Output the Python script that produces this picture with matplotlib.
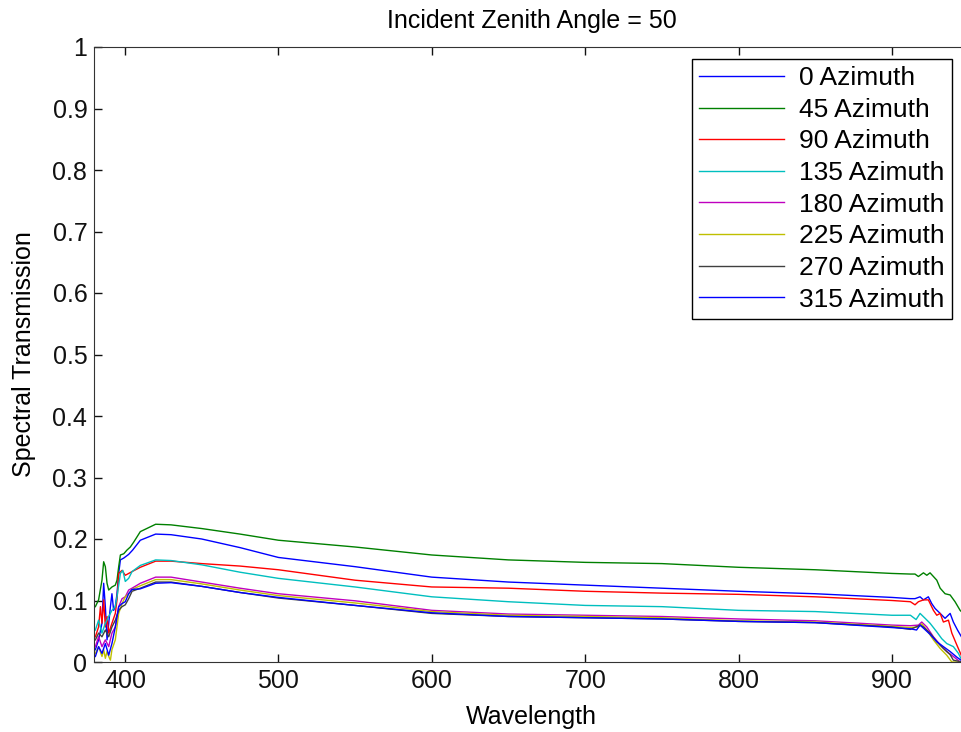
import matplotlib
matplotlib.use("Agg")
import matplotlib.pyplot as plt

# wavelength grid shared by the smooth middle part of every curve
wl_mid = [410, 420, 430, 450, 475, 500, 550, 600, 650, 700, 750, 800, 850, 900, 912]

# azimuth 0
az0_head_wl = [380.7, 382.8, 385.0, 386.1, 387.2, 388.3, 389.4, 390.5, 391.5, 392.6,
               393.7, 394.8, 395.9, 397.0, 399.2, 402.4, 405.0]
az0_head = [0.020, 0.036, 0.063, 0.128, 0.090, 0.036, 0.063, 0.090, 0.111, 0.084,
            0.090, 0.111, 0.144, 0.166, 0.169, 0.175, 0.182]
az0_mid = [0.198, 0.208, 0.207, 0.200, 0.186, 0.170, 0.155, 0.138, 0.130, 0.125,
           0.120, 0.115, 0.111, 0.105, 0.103]
az0_tail_wl = [915.0, 918.3, 920.5, 923.7, 925.9, 928.1, 931.4, 934.6, 937.9, 940.0, 942.7, 945.5]
az0_tail = [0.103, 0.106, 0.101, 0.106, 0.095, 0.087, 0.079, 0.071, 0.079, 0.065, 0.052, 0.040]

# azimuth 45
az45_head_wl = [380.7, 382.8, 385.0, 386.1, 387.2, 388.3, 389.4, 391.5, 393.7, 394.8,
                395.9, 397.0, 399.2, 401.3, 403.5, 405.7]
az45_head = [0.090, 0.101, 0.133, 0.163, 0.155, 0.128, 0.117, 0.122, 0.125, 0.133,
             0.155, 0.174, 0.176, 0.182, 0.187, 0.195]
az45_mid = [0.212, 0.224, 0.223, 0.217, 0.208, 0.198, 0.187, 0.174, 0.166, 0.162,
            0.160, 0.154, 0.150, 0.144, 0.143]
az45_tail_wl = [915.0, 917.2, 920.5, 922.7, 924.8, 927.0, 929.2, 931.4, 934.6, 937.9, 941.1, 944.4, 946.0]
az45_tail = [0.143, 0.139, 0.145, 0.141, 0.145, 0.139, 0.133, 0.120, 0.111, 0.109, 0.098, 0.084, 0.080]

# azimuth 90
az90_head_wl = [380.7, 382.8, 384.0, 385.0, 386.1, 387.2, 388.3, 389.4, 391.5, 393.7,
                394.8, 395.9, 398.1, 400.2, 402.4, 404.6]
az90_head = [0.041, 0.057, 0.090, 0.063, 0.101, 0.057, 0.074, 0.047, 0.063, 0.079,
             0.101, 0.144, 0.149, 0.141, 0.144, 0.147]
az90_mid = [0.154, 0.164, 0.164, 0.160, 0.156, 0.150, 0.133, 0.122, 0.120, 0.115,
            0.112, 0.110, 0.106, 0.100, 0.098]
az90_tail_wl = [915.0, 917.2, 920.5, 923.7, 927.0, 929.2, 931.4, 933.5, 936.8, 939.0, 942.2, 945.5]
az90_tail = [0.093, 0.098, 0.101, 0.101, 0.084, 0.076, 0.079, 0.065, 0.068, 0.047, 0.028, 0.009]

# azimuth 135
az135_head_wl = [380.7, 382.8, 385.0, 387.2, 389.4, 391.5, 393.7, 394.8, 397.0, 398.6,
                 400.2, 402.4, 404.6]
az135_head = [0.052, 0.068, 0.047, 0.063, 0.074, 0.084, 0.090, 0.106, 0.144, 0.149,
              0.131, 0.136, 0.147]
az135_mid = [0.157, 0.166, 0.165, 0.158, 0.146, 0.136, 0.122, 0.106, 0.098, 0.092,
             0.090, 0.084, 0.082, 0.076, 0.076]
az135_tail_wl = [915.7, 918.3, 921.6, 924.8, 929.2, 932.4, 935.7, 940.0, 943.3, 945.5]
az135_tail = [0.069, 0.079, 0.071, 0.063, 0.049, 0.038, 0.030, 0.025, 0.014, 0.003]

# azimuth 180
az180_head_wl = [380.7, 382.8, 385.0, 387.2, 389.4, 391.5, 393.7, 395.9, 398.1, 400.2,
                 402.4, 404.6]
az180_head = [0.025, 0.041, 0.025, 0.036, 0.025, 0.047, 0.057, 0.090, 0.103, 0.106,
              0.117, 0.120]
az180_mid = [0.128, 0.138, 0.138, 0.130, 0.120, 0.111, 0.0995, 0.084, 0.078, 0.076,
             0.074, 0.070, 0.067, 0.060, 0.059]
az180_tail_wl = [917.2, 919.4, 922.7, 927.0, 931.4, 935.7, 940.0, 944.4]
az180_tail = [0.060, 0.065, 0.057, 0.041, 0.028, 0.017, 0.009, 0.0]

# azimuth 225
az225_head_wl = [380.7, 382.8, 385.0, 386.1, 387.2, 388.3, 389.4, 390.5, 391.5, 393.7,
                 395.9, 398.1, 400.2, 402.4, 404.6]
az225_head = [0.014, 0.025, 0.009, 0.020, 0.006, 0.017, 0.009, 0.003, 0.020, 0.036,
              0.079, 0.095, 0.106, 0.111, 0.118]
az225_mid = [0.124, 0.134, 0.134, 0.127, 0.117, 0.108, 0.096, 0.082, 0.076, 0.074,
             0.072, 0.067, 0.065, 0.058, 0.056]
az225_tail_wl = [917.2, 919.4, 922.7, 927.0, 931.4, 935.7, 939.0, 945.5]
az225_tail = [0.057, 0.062, 0.052, 0.036, 0.022, 0.011, 0.0, 0.0]

# azimuth 270
az270_head_wl = [380.7, 382.8, 385.0, 387.2, 389.4, 391.5, 393.7, 395.9, 398.1, 400.2,
                 402.4, 404.6]
az270_head = [0.036, 0.047, 0.041, 0.052, 0.041, 0.057, 0.068, 0.084, 0.090, 0.093,
              0.103, 0.115]
az270_mid = [0.120, 0.130, 0.130, 0.123, 0.113, 0.104, 0.092, 0.079, 0.074, 0.072,
             0.070, 0.066, 0.064, 0.057, 0.053]
az270_tail_wl = [918.3, 920.5, 924.8, 929.2, 933.5, 937.9, 940.0, 945.5]
az270_tail = [0.060, 0.057, 0.047, 0.033, 0.022, 0.012, 0.003, 0.0]

# azimuth 315
az315_head_wl = [380.7, 382.8, 385.0, 387.2, 389.4, 391.5, 393.7, 395.9, 398.1, 400.2,
                 402.4, 404.6]
az315_head = [0.009, 0.025, 0.014, 0.030, 0.011, 0.030, 0.057, 0.090, 0.095, 0.098,
              0.111, 0.118]
az315_mid = [0.119, 0.128, 0.129, 0.123, 0.113, 0.105, 0.092, 0.080, 0.074, 0.072,
             0.070, 0.066, 0.064, 0.056, 0.054]
az315_tail_wl = [916.0, 918.3, 920.5, 924.8, 929.2, 933.5, 937.9, 942.2, 945.5]
az315_tail = [0.052, 0.060, 0.055, 0.045, 0.033, 0.025, 0.017, 0.008, 0.002]

labels = ["0 Azimuth", "45 Azimuth", "90 Azimuth", "135 Azimuth",
          "180 Azimuth", "225 Azimuth", "270 Azimuth", "315 Azimuth"]

series = [
    (az0_head_wl, az0_head, az0_mid, az0_tail_wl, az0_tail),
    (az45_head_wl, az45_head, az45_mid, az45_tail_wl, az45_tail),
    (az90_head_wl, az90_head, az90_mid, az90_tail_wl, az90_tail),
    (az135_head_wl, az135_head, az135_mid, az135_tail_wl, az135_tail),
    (az180_head_wl, az180_head, az180_mid, az180_tail_wl, az180_tail),
    (az225_head_wl, az225_head, az225_mid, az225_tail_wl, az225_tail),
    (az270_head_wl, az270_head, az270_mid, az270_tail_wl, az270_tail),
    (az315_head_wl, az315_head, az315_mid, az315_tail_wl, az315_tail),
]

# matlab default line colours
colors = [(0, 0, 1), (0, 0.5, 0), (1, 0, 0), (0, 0.75, 0.75),
          (0.75, 0, 0.75), (0.75, 0.75, 0), (0.25, 0.25, 0.25), (0, 0, 1)]

plt.rcParams["font.family"] = ["Liberation Sans", "DejaVu Sans"]
fs = 18

fig = plt.figure(figsize=(9.62, 7.32), dpi=100)
ax = fig.add_axes([94.3 / 962, 70 / 732, 874.4 / 962, 615 / 732])

for (hw, hv, mv, tw, tv), lab, col in zip(series, labels, colors):
    x = hw + wl_mid + tw
    y = hv + mv + tv
    ax.plot(x, y, color=col, lw=1.0, label=lab)

ax.set_xlim(380, 950)
ax.set_ylim(0, 1)
ax.set_xticks([400, 500, 600, 700, 800, 900])
ax.set_yticks([i / 10 for i in range(11)])
ax.set_yticklabels(["0", "0.1", "0.2", "0.3", "0.4", "0.5", "0.6", "0.7", "0.8", "0.9", "1"])
ax.tick_params(direction="in", top=True, right=True, length=6, width=1, pad=5,
               labelsize=fs, colors="#111111")
for sp in ax.spines.values():
    sp.set_color("#333333")

ax.set_title("Incident Zenith Angle = 50", fontsize=fs, pad=14)
ax.set_xlabel("Wavelength", fontsize=fs, labelpad=9)
ax.set_ylabel("Spectral Transmission", fontsize=fs, labelpad=12)

leg = ax.legend(loc="upper right", bbox_to_anchor=(0.981, 0.9805), borderaxespad=0,
                fontsize=19, handlelength=3.2, labelspacing=0.29, fancybox=False,
                edgecolor="black", framealpha=1, borderpad=0.27, handletextpad=0.6)
leg.get_frame().set_linewidth(1.0)

fig.savefig("out.png", dpi=100)
